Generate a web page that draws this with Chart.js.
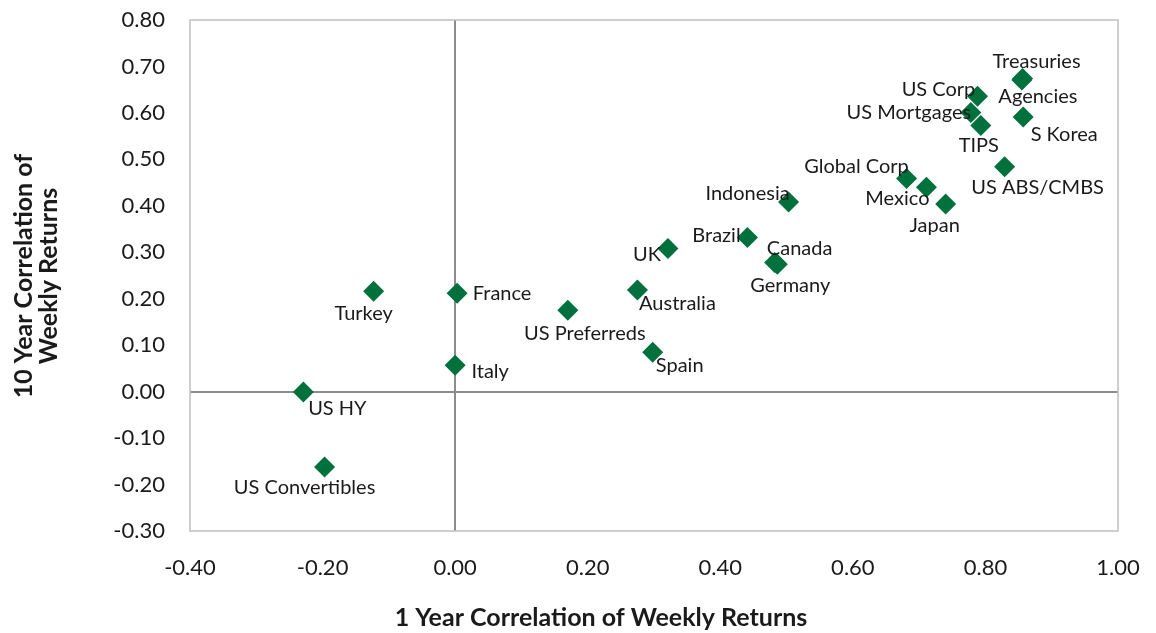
<!DOCTYPE html>
<html>
<head>
<meta charset="utf-8">
<script src="https://cdn.jsdelivr.net/npm/chart.js@4.4.0/dist/chart.umd.min.js"></script>
<style>
  html, body { margin: 0; padding: 0; background: #fff; }
  #wrap { width: 1156px; height: 633px; }
</style>
</head>
<body>
<div id="wrap"><canvas id="chart"></canvas></div>
<script>
// names of each asset class / market
const names = ['Treasuries', 'Agencies', 'US Corp', 'US Mortgages', 'TIPS', 'S Korea', 'US ABS/CMBS',
  'Global Corp', 'Mexico', 'Japan', 'Indonesia', 'Brazil', 'Canada', 'Germany', 'UK', 'Australia',
  'US Preferreds', 'Spain', 'Turkey', 'France', 'Italy', 'US HY', 'US Convertibles'];
// 1 year correlation of weekly returns (x)
const oneYear = [0.856, 0.855, 0.788, 0.778, 0.793, 0.857, 0.829,
  0.681, 0.711, 0.740, 0.503, 0.441, 0.482, 0.486, 0.321, 0.275,
  0.170, 0.298, -0.123, 0.003, 0.000, -0.229, -0.197];
// 10 year correlation of weekly returns (y)
const tenYear = [0.674, 0.671, 0.636, 0.601, 0.573, 0.591, 0.484,
  0.459, 0.440, 0.404, 0.408, 0.332, 0.278, 0.274, 0.308, 0.219,
  0.175, 0.085, 0.216, 0.212, 0.057, -0.001, -0.162];

const xTitle = '1 Year Correlation of Weekly Returns';
const yTitle = ['10 Year Correlation of', 'Weekly Returns'];

// where each data label sits relative to its marker (pixels, centre of text)
const labelOffsets = [[14, -17], [16, 17], [-39, -7], [-62, 0], [-2, 20], [41, 17], [33, 21],
  [-50, -12], [-29, 11], [-11, 22], [-41, -9], [-31, -2], [25, -14], [13, 21], [-21, 6], [40, 14],
  [17, 23], [27, 13], [-10, 22], [45, 0], [35, 6], [34, 16], [-20, 21]];

const FONT = 'Lato, "Open Sans", sans-serif';
const TEXT = '#1a1a1a';

const points = oneYear.map((x, i) => ({ x: x, y: tenYear[i] }));

const isZero = v => Math.abs(v) < 1e-9;
const fmt = v => (isZero(v) ? 0 : v).toFixed(2);

const decor = {
  id: 'decor',
  beforeDatasetsDraw(chart) {
    const { ctx, chartArea: a } = chart;
    ctx.save();
    ctx.strokeStyle = '#bfbfbf';
    ctx.lineWidth = 1.5;
    ctx.strokeRect(a.left, a.top, a.right - a.left, a.bottom - a.top);
    ctx.restore();
  },
  afterDatasetsDraw(chart) {
    const { ctx } = chart;
    const meta = chart.getDatasetMeta(0);
    ctx.save();
    ctx.font = '20px ' + FONT;
    ctx.fillStyle = TEXT;
    ctx.textAlign = 'center';
    ctx.textBaseline = 'middle';
    meta.data.forEach((el, i) => {
      const [dx, dy] = labelOffsets[i];
      ctx.fillText(names[i], el.x + dx, el.y + dy);
    });
    ctx.restore();
  },
  afterDraw(chart) {
    const { ctx } = chart;
    ctx.save();
    ctx.fillStyle = TEXT;
    ctx.font = 'bold 25px ' + FONT;
    ctx.textAlign = 'center';
    ctx.textBaseline = 'alphabetic';
    ctx.fillText(xTitle, 601, 626);
    ctx.translate(0, 276);
    ctx.rotate(-Math.PI / 2);
    ctx.fillText(yTitle[0], 0, 32);
    ctx.fillText(yTitle[1], 0, 57);
    ctx.restore();
  }
};

new Chart(document.getElementById('chart'), {
  type: 'scatter',
  data: {
    datasets: [{
      label: 'Correlation',
      data: points,
      pointStyle: 'rectRot',
      pointRadius: 10.5,
      pointHoverRadius: 10.5,
      pointBorderWidth: 0,
      backgroundColor: '#00703c',
      borderColor: '#00703c'
    }]
  },
  options: {
    responsive: true,
    maintainAspectRatio: false,
    animation: false,
    layout: { padding: { top: 20, right: 38, left: 0, bottom: 0 } },
    plugins: {
      legend: { display: false },
      tooltip: { enabled: false }
    },
    scales: {
      x: {
        type: 'linear',
        min: -0.4,
        max: 1.0,
        border: { display: false },
        grid: {
          drawTicks: false,
          lineWidth: 2,
          color: c => isZero(c.tick.value) ? '#8c8c8c' : 'rgba(0,0,0,0)'
        },
        ticks: {
          stepSize: 0.2,
          padding: 24,
          color: TEXT,
          font: { family: FONT, size: 22 },
          callback: fmt
        },
        // fixed height; edge labels fit inside the layout padding
        afterFit: s => { s.height = 102; s.paddingLeft = 0; s.paddingRight = 0; }
      },
      y: {
        type: 'linear',
        min: -0.3,
        max: 0.8,
        border: { display: false },
        grid: {
          drawTicks: false,
          lineWidth: 2,
          color: c => isZero(c.tick.value) ? '#8c8c8c' : 'rgba(0,0,0,0)'
        },
        ticks: {
          stepSize: 0.1,
          padding: 25,
          color: TEXT,
          font: { family: FONT, size: 22 },
          callback: fmt
        },
        afterFit: s => { s.width = 190; s.paddingTop = 0; s.paddingBottom = 0; }
      }
    }
  },
  plugins: [decor]
});
</script>
</body>
</html>
